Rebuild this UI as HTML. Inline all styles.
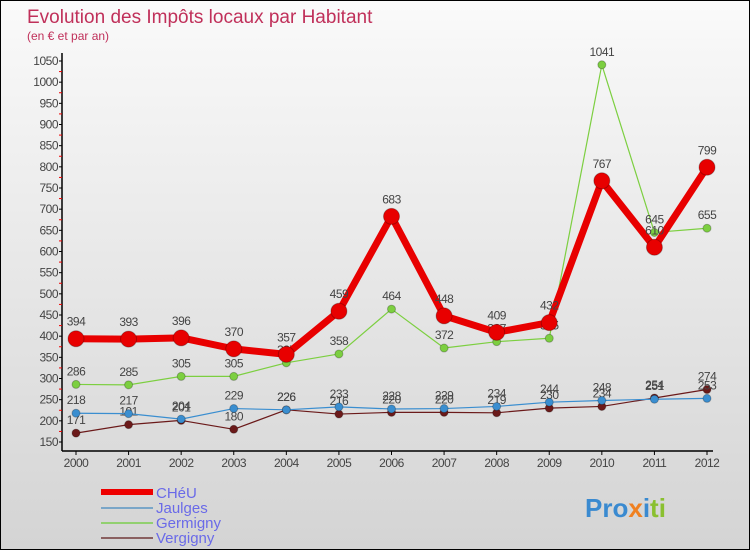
<!DOCTYPE html>
<html><head><meta charset="utf-8"><style>
body{margin:0}
#wrap{width:748px;height:548px;border:1px solid #000;background:linear-gradient(#fafafa,#d4d4d4);position:relative;font-family:"Liberation Sans",sans-serif;overflow:hidden}
</style></head><body>
<div id="wrap">
<svg id="svg" width="748" height="548" style="position:absolute;left:0;top:0">
<text x="26" y="22" font-size="19" fill="#c0305a">Evolution des Impôts locaux par Habitant</text>
<text x="26" y="39" font-size="12" fill="#c0305a">(en € et par an)</text>
<g id="axes"></g><g id="series"></g>
<g>
<line x1="100" y1="491" x2="152" y2="491" stroke="#e00" stroke-width="6"/>
<text x="155" y="497" font-size="15" fill="#6a6ae8">CHéU</text>
<line x1="100" y1="507" x2="152" y2="507" stroke="#7aa6c8" stroke-width="2"/>
<text x="155" y="512" font-size="15" fill="#6a6ae8">Jaulges</text>
<line x1="100" y1="522" x2="152" y2="522" stroke="#92d070" stroke-width="2"/>
<text x="155" y="527" font-size="15" fill="#6a6ae8">Germigny</text>
<line x1="100" y1="537" x2="152" y2="537" stroke="#8a6060" stroke-width="2"/>
<text x="155" y="542" font-size="15" fill="#6a6ae8">Vergigny</text>
</g>
<g font-size="26" font-weight="bold">
<text x="584" y="516"><tspan fill="#3a8ad0">Pro</tspan><tspan fill="#f08020">x</tspan><tspan fill="#3a8ad0">i</tspan><tspan fill="#8ac030">ti</tspan></text>
</g>
</svg>
</div>
<script>
const years=["2000","2001","2002","2003","2004","2005","2006","2007","2008","2009","2010","2011","2012"];
const cheu=[394,393,396,370,357,459,683,448,409,432,767,610,799];
const jaulges=[218,217,204,229,226,233,228,229,234,244,248,251,253];
const germigny=[286,285,305,305,337,358,464,372,387,395,1041,645,655];
const vergigny=[171,191,201,180,226,216,220,220,219,230,234,254,274];
const yTicks=[150,200,250,300,350,400,450,500,550,600,650,700,750,800,850,900,950,1000,1050];
const NS="http://www.w3.org/2000/svg";
function X(i){return 75+i*(706-75)/(years.length-1);}
function Y(v){return 441-(v-150)*(441-60)/900;}
function mk(tag,attrs,parent){const e=document.createElementNS(NS,tag);for(const k in attrs)e.setAttribute(k,attrs[k]);parent.appendChild(e);return e;}
const ax=document.getElementById('axes');
let a=mk('line',{x1:61,y1:52,x2:61,y2:450,stroke:'#000','stroke-width':1.5},ax);


a=mk('line',{x1:61,y1:450,x2:712,y2:450,stroke:'#000','stroke-width':1.5},ax);


yTicks.forEach(v=>{
 mk('line',{x1:58,y1:Y(v),x2:61,y2:Y(v),stroke:'#000'},ax);
 if(v<1050) mk('line',{x1:58,y1:Y(v+25),x2:61,y2:Y(v+25),stroke:'#e00'},ax);
 const t=mk('text',{x:57,y:Y(v)+4,'font-size':12,fill:'#444','text-anchor':'end','letter-spacing':'-0.5'},ax);
 t.textContent=v;
 
 
});
years.forEach((y,i)=>{
 mk('line',{x1:X(i),y1:450,x2:X(i),y2:454,stroke:'#000'},ax);
 const t=mk('text',{x:X(i),y:466,'font-size':12,fill:'#444','text-anchor':'middle','letter-spacing':'-0.5'},ax);
 t.textContent=y;
 
 
});
const sg=document.getElementById('series');
function draw(name,vals,color,w,r){
 const g=mk('g',{},sg);
 
 
 const p=mk('polyline',{points:vals.map((v,i)=>X(i)+','+Y(v)).join(' '),fill:'none',stroke:color,'stroke-width':w,'stroke-linejoin':'round'},g);
 
 
 vals.forEach((v,i)=>{
  const c=mk('circle',{cx:X(i),cy:Y(v),r:r,fill:color,stroke:'rgba(0,0,0,0.25)','stroke-width':1},g);
  
  
  const t=mk('text',{x:X(i),y:Y(v)-(r+5),'font-size':12,fill:'#444','text-anchor':'middle','letter-spacing':'-0.5'},g);
  t.textContent=v;
  
  
 });
}
draw('vergigny',vergigny,'#6b1a1a',1.2,4);
draw('jaulges',jaulges,'#3a8ed0',1.2,4);
draw('germigny',germigny,'#7ccf40',1.2,4);
draw('cheu',cheu,'#e80000',7,8);
</script>
</body></html>
